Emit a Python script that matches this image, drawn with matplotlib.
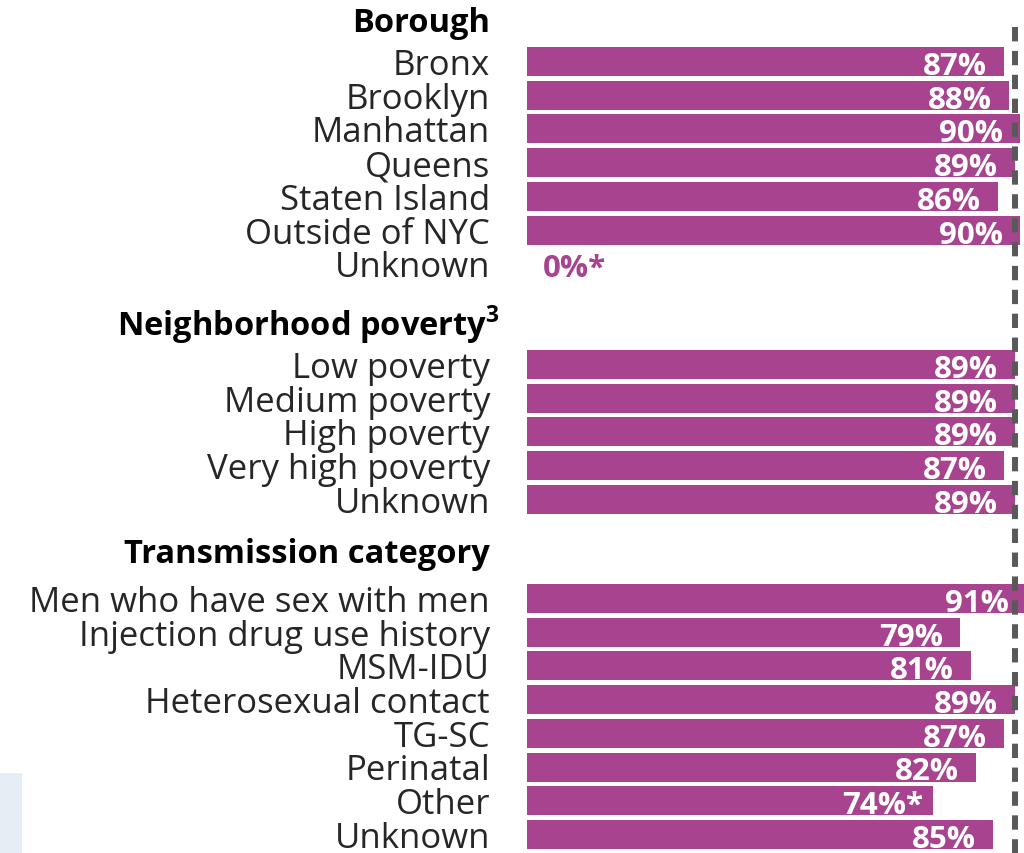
import matplotlib
matplotlib.use("Agg")
import matplotlib.pyplot as plt
from matplotlib.patches import Rectangle
from matplotlib.transforms import offset_copy

plt.rcParams["font.family"] = ["Open Sans", "DejaVu Sans"]
plt.rcParams["mathtext.fontset"] = "custom"
plt.rcParams["mathtext.rm"] = "Open Sans"
plt.rcParams["mathtext.bf"] = "Open Sans:bold"

# Share (%) by group
groups = ["Borough", r"Neighborhood poverty$^{\mathbf{3}}$", "Transmission category"]

borough_labels = ["Bronx", "Brooklyn", "Manhattan", "Queens", "Staten Island",
                  "Outside of NYC", "Unknown"]
borough_values = [87, 88, 90, 89, 86, 90, 0]
borough_flags = ["", "", "", "", "", "", "*"]

poverty_labels = ["Low poverty", "Medium poverty", "High poverty",
                  "Very high poverty", "Unknown"]
poverty_values = [89, 89, 89, 87, 89]
poverty_flags = ["", "", "", "", ""]

transmission_labels = ["Men who have sex with men", "Injection drug use history",
                       "MSM-IDU", "Heterosexual contact", "TG-SC", "Perinatal",
                       "Other", "Unknown"]
transmission_values = [91, 79, 81, 89, 87, 82, 74, 85]
transmission_flags = ["", "", "", "", "", "", "*", ""]

overall_value = 89

BAR_COLOR = "#A8448F"
REF_COLOR = "#595959"

W, H, DPI = 1024, 854, 100
fig = plt.figure(figsize=(W / DPI, H / DPI), dpi=DPI)
ax = fig.add_axes([0, 0, 1, 1])

# horizontal scale: zero at x=527 px, 5.48 px per percentage point
x0_px, px_per_pct = 527, 5.48
ax.set_xlim(-x0_px / px_per_pct, (W - x0_px) / px_per_pct)
ax.set_ylim(H, 0)
ax.axis("off")

# vertical layout (header centre, first row centre) per group
row_step = 33.7
bar_h = 29
header_pos = [22, 326, 553]
header_dx = [-37, -27, -37]
first_row = [62.5, 365.5, 599.5]
baseline_shift = 12.5
header_shift = 10

datasets = [
    (borough_labels, borough_values, borough_flags),
    (poverty_labels, poverty_values, poverty_flags),
    (transmission_labels, transmission_values, transmission_flags),
]

label_tf = offset_copy(ax.transData, fig=fig, x=-37, y=0, units="dots")
inner_tf = offset_copy(ax.transData, fig=fig, x=-17, y=0, units="dots")
inner_star_tf = offset_copy(ax.transData, fig=fig, x=-9, y=0, units="dots")
zero_tf = offset_copy(ax.transData, fig=fig, x=16, y=0, units="dots")

FS = 25
HFS = 23.5
VFS = 22.5
for g, (labels, values, flags) in enumerate(datasets):
    head_tf = offset_copy(ax.transData, fig=fig, x=header_dx[g], y=0,
                          units="dots")
    ax.text(0, header_pos[g] + header_shift, groups[g], transform=head_tf,
            ha="right", va="baseline", fontsize=HFS, fontweight="bold",
            color="black")
    ys = [first_row[g] + i * row_step for i in range(len(labels))]
    ax.barh(ys, values, height=bar_h, color=BAR_COLOR,
            edgecolor="none", zorder=2)
    for y, lab, v, f in zip(ys, labels, values, flags):
        yb = y + baseline_shift
        ax.text(0, yb, lab, transform=label_tf, ha="right", va="baseline",
                fontsize=FS, color="#262626")
        txt = f"{v}%{f}"
        if v == 0:
            ax.text(0, yb, txt, transform=zero_tf, ha="left", va="baseline",
                    fontsize=VFS, fontweight="bold", color=BAR_COLOR)
        else:
            ax.text(v, yb, txt, transform=inner_star_tf if f else inner_tf,
                    ha="right", va="baseline", fontsize=VFS, fontweight="bold",
                    color="white", zorder=3)

# overall reference line
ax.plot([overall_value, overall_value], [28, H], color=REF_COLOR,
        linewidth=4.3, dashes=(2.4, 1.6), zorder=4, solid_capstyle="butt")

# panel edge at the lower left
fig.patches.append(Rectangle((0, 0), 22 / W, 80 / H, transform=fig.transFigure,
                             facecolor="#E7EDF5", edgecolor="none"))

fig.savefig("out.png", dpi=DPI)
